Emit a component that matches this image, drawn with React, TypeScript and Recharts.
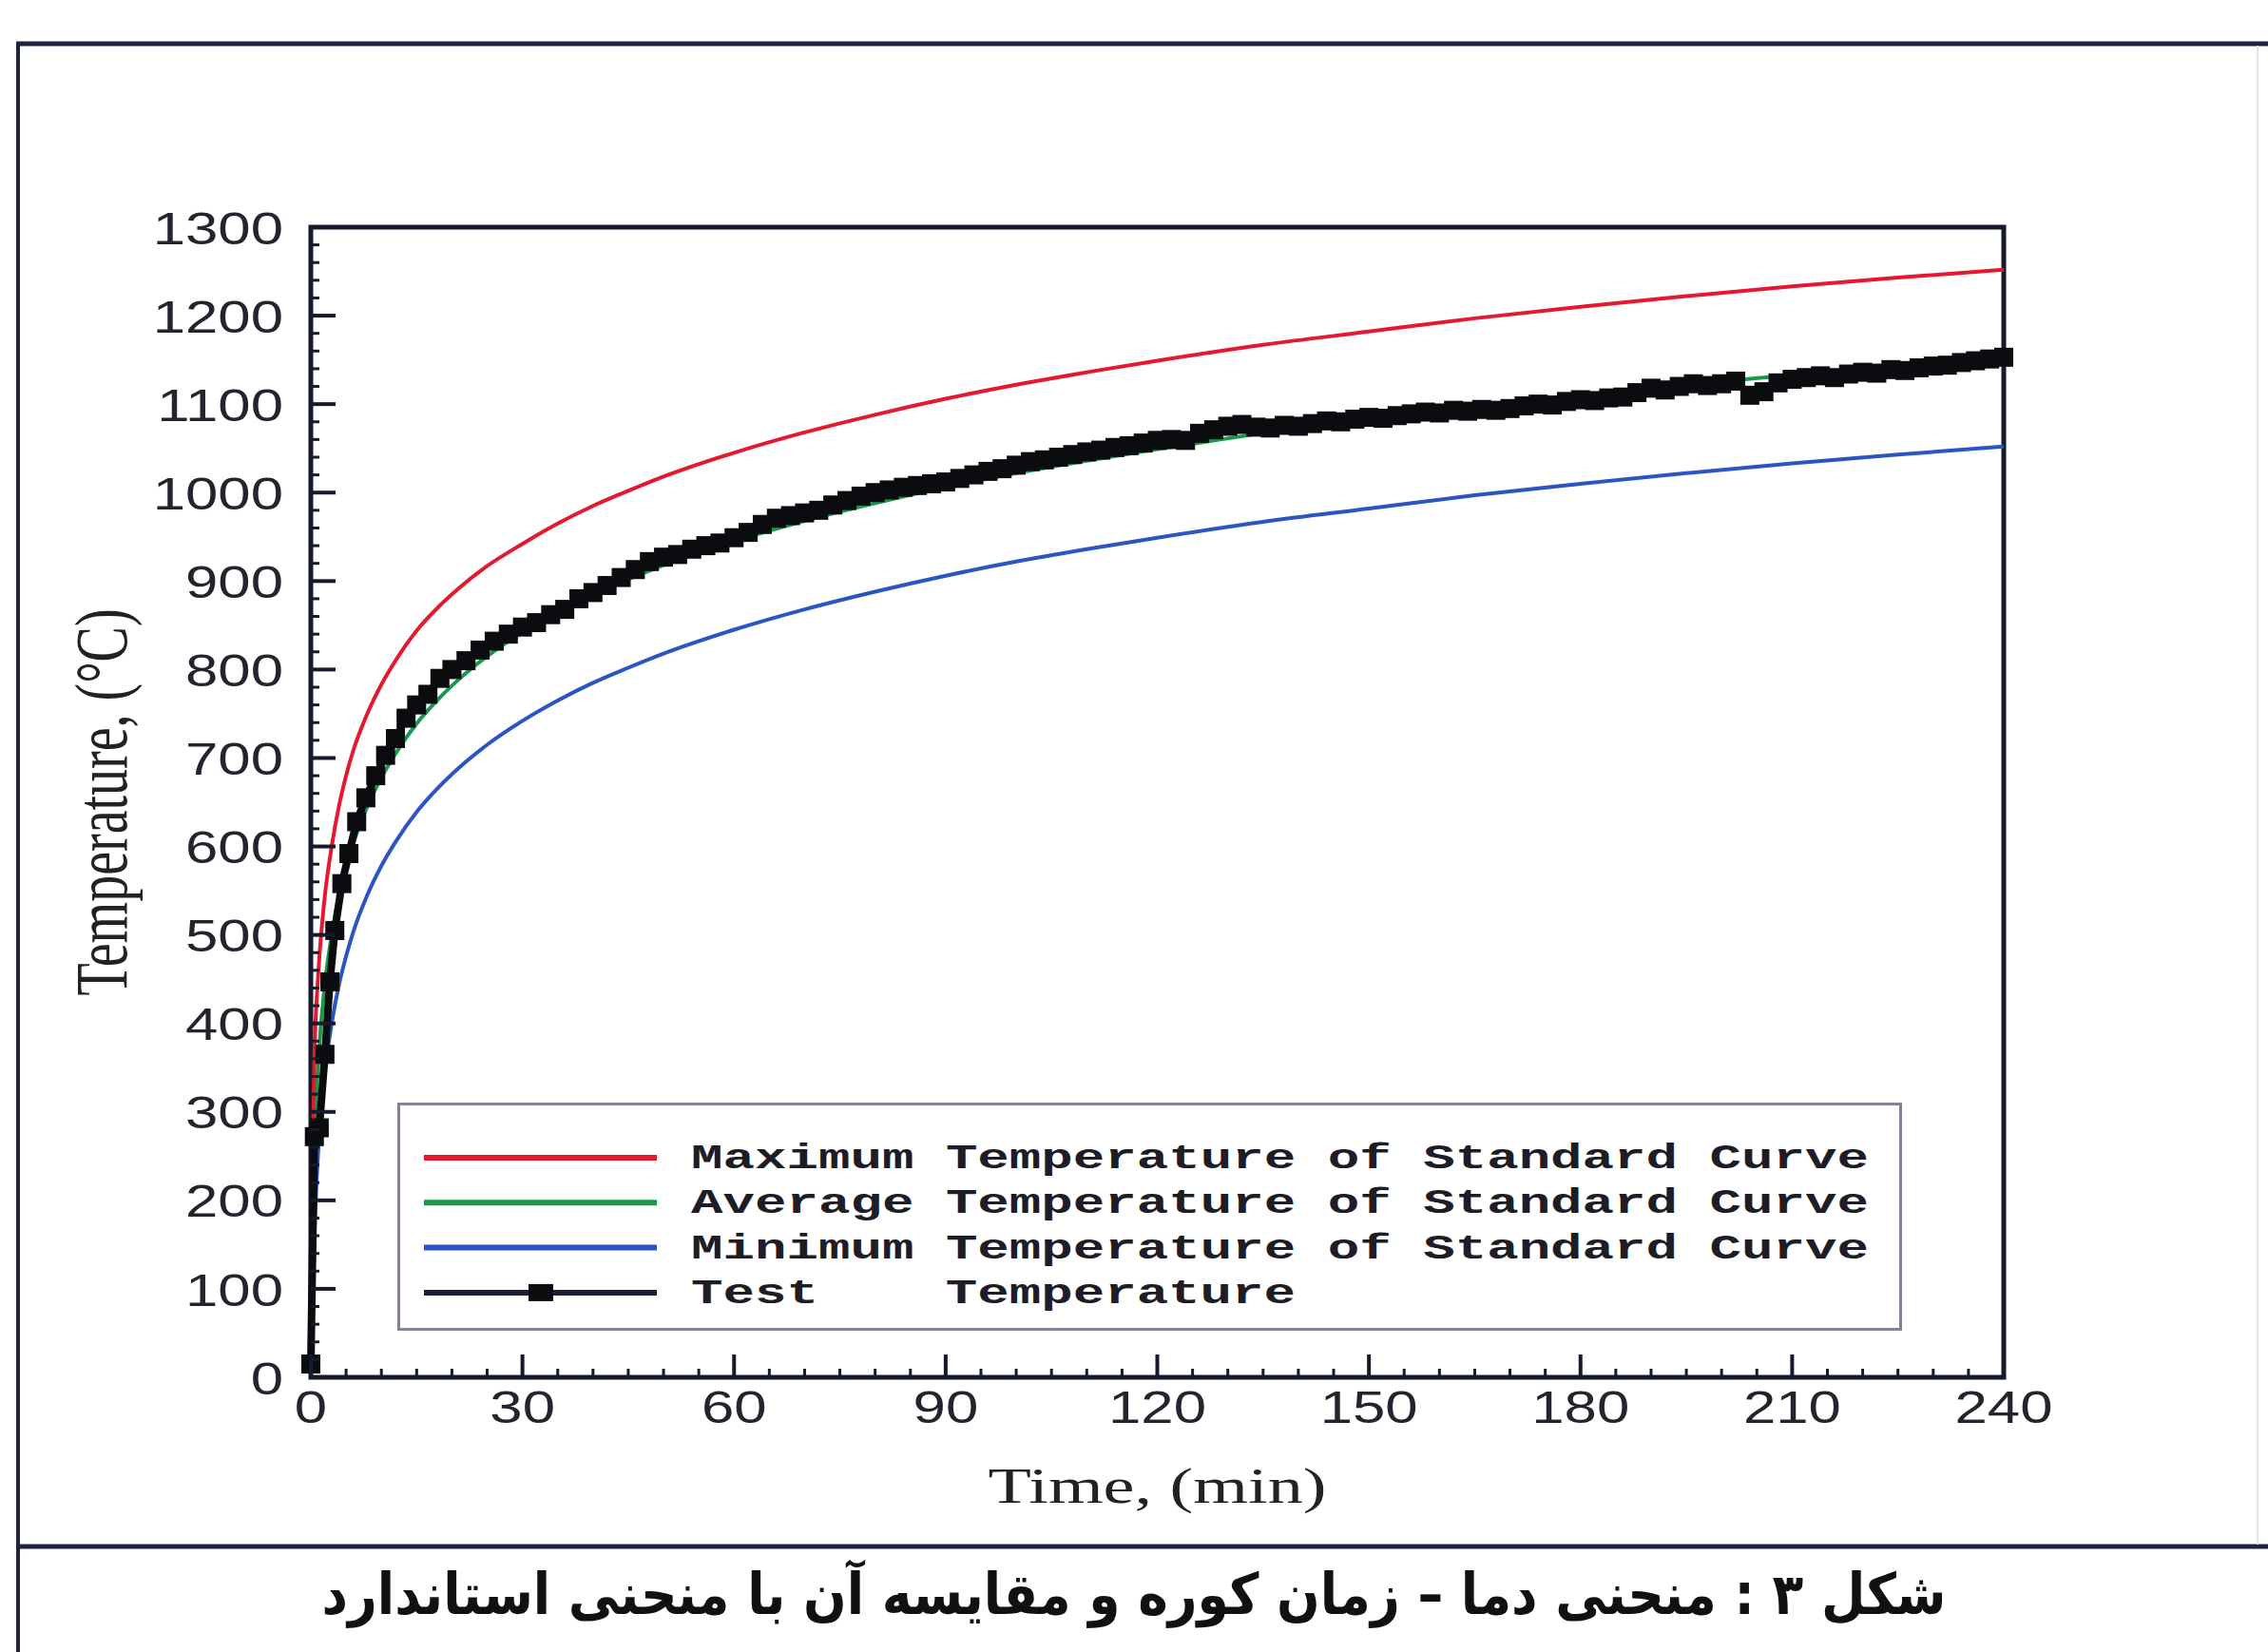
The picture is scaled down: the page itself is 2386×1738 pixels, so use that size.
import React from "react";
import { LineChart, Line, XAxis, YAxis, ReferenceArea, Legend } from "recharts";

// Standard curve sample times (min) and temperatures (°C)
const stdTime = [0, 0.5, 1, 1.5, 2, 3, 4, 5, 6, 8, 10, 12, 15, 18, 21, 25, 30, 35, 40, 45, 50, 60, 70, 80, 90, 100, 110, 120, 135, 150, 165, 180, 195, 210, 225, 240];
const maxTemp = [120, 361, 449, 504, 545, 602, 646, 680, 708, 750, 783, 810, 844, 870, 892, 917, 942, 965, 985, 1002, 1018, 1045, 1068, 1088, 1106, 1122, 1136, 1149, 1167, 1182, 1197, 1210, 1222, 1233, 1243, 1252];
const avgTemp = [20, 261, 349, 404, 445, 502, 544, 576, 603, 645, 678, 705, 739, 766, 789, 815, 842, 865, 885, 902, 918, 945, 968, 988, 1006, 1022, 1036, 1049, 1067, 1082, 1097, 1110, 1122, 1133, 1143, 1153];
const minTemp = [0, 161, 249, 304, 345, 402, 444, 476, 503, 545, 578, 605, 639, 666, 689, 715, 742, 765, 785, 802, 818, 845, 868, 888, 906, 922, 936, 949, 967, 982, 997, 1010, 1022, 1033, 1043, 1052];

// Furnace test measurements
const testTime = [
  0, 0.5, 1.2, 2, 2.7, 3.4, 4.4, 5.4, 6.5, 7.8, 9.2, 10.6, 12, 13.5, 15, 16.6, 18.3, 20,
  22, 24, 26, 28, 30, 32, 34, 36, 38, 40, 42, 44, 46, 48, 50, 52, 54, 56, 58, 60,
  62, 64, 66, 68, 70, 72, 74, 76, 78, 80, 82, 84, 86, 88, 90, 92, 94, 96, 98, 100,
  102, 104, 106, 108, 110, 112, 114, 116, 118, 120, 122, 124, 126, 128, 130, 132, 134, 136, 138, 140,
  142, 144, 146, 148, 150, 152, 154, 156, 158, 160, 162, 164, 166, 168, 170, 172, 174, 176, 178, 180,
  182, 184, 186, 188, 190, 192, 194, 196, 198, 200, 202, 204, 206, 208, 210, 212, 214, 216, 218, 220,
  222, 224, 226, 228, 230, 232, 234, 236, 238, 240,
];
const testTemp = [
  15, 272, 282, 365, 447, 505, 558, 592, 628, 655, 680, 703, 722, 745, 760, 772, 790, 800,
  810, 822, 832, 840, 848, 853, 862, 868, 880, 887, 895, 904, 913, 922, 927, 930, 936, 940, 943, 949,
  955, 964, 971, 974, 977, 980, 986, 991, 996, 1000, 1003, 1006, 1008, 1010, 1012, 1016, 1020, 1024, 1027, 1031,
  1035, 1037, 1040, 1043, 1046, 1048, 1051, 1053, 1056, 1059, 1060, 1059, 1067, 1071, 1075, 1077, 1074, 1073, 1076, 1075,
  1078, 1081, 1080, 1083, 1085, 1084, 1087, 1089, 1091, 1090, 1093, 1092, 1094, 1093, 1095, 1098, 1100, 1099, 1103, 1105,
  1104, 1107, 1108, 1113, 1118, 1116, 1120, 1123, 1121, 1123, 1126, 1110, 1114, 1124, 1128, 1130, 1132, 1130, 1134, 1136,
  1135, 1139, 1138, 1141, 1143, 1144, 1147, 1149, 1151, 1153,
];

const xMajorTicks = [0, 30, 60, 90, 120, 150, 180, 210, 240];
const yMajorTicks = [0, 100, 200, 300, 400, 500, 600, 700, 800, 900, 1000, 1100, 1200, 1300];
const xTicks = Array.from({ length: 49 }, (_, i) => i * 5);
const yTicks = Array.from({ length: 66 }, (_, i) => i * 20);

const legendLabels = [
  "Maximum Temperature of Standard Curve",
  "Average Temperature of Standard Curve",
  "Minimum Temperature of Standard Curve",
  "Test    Temperature",
];

const RED = "#e4192f";
const GREEN = "#179a4c";
const BLUE = "#2c55c4";
const TEST = "#0a0c10";
const AXIS = "#151a2c";
const TEXT = "#24242e";
const FRAME = "#1d2340";

const toPoints = (ts: number[], vs: number[]) => ts.map((t, i) => ({ t, v: vs[i] }));

const maxData = toPoints(stdTime, maxTemp);
const avgData = toPoints(stdTime, avgTemp);
const minData = toPoints(stdTime, minTemp);
const testData = toPoints(testTime, testTemp);

// eslint-disable-next-line @typescript-eslint/no-explicit-any
function YTick({ x, y, payload }: any) {
  const major = yMajorTicks.includes(payload.value);
  return (
    <g>
      <line x1={x} x2={x + (major ? 26 : 9)} y1={y} y2={y} stroke={AXIS} strokeWidth={major ? 4 : 3} />
      {major && (
        <text
          transform={`translate(${x - 29},${y}) scale(1.26,1)`}
          textAnchor="end"
          dy="0.36em"
          fontFamily="Liberation Sans"
          fontSize={49}
          fill={TEXT}
        >
          {payload.value}
        </text>
      )}
    </g>
  );
}

// eslint-disable-next-line @typescript-eslint/no-explicit-any
function XTick({ x, y, payload }: any) {
  const major = xMajorTicks.includes(payload.value);
  return (
    <g>
      <line x1={x} x2={x} y1={y} y2={y - (major ? 24 : 9)} stroke={AXIS} strokeWidth={major ? 4 : 3} />
      {major && (
        <text
          transform={`translate(${x},${y + 48}) scale(1.26,1)`}
          textAnchor="middle"
          fontFamily="Liberation Sans"
          fontSize={49}
          fill={TEXT}
        >
          {payload.value}
        </text>
      )}
    </g>
  );
}

// eslint-disable-next-line @typescript-eslint/no-explicit-any
function TestDot({ cx, cy, index }: any) {
  if (cx == null || cy == null) return <g key={`td-${index}`} />;
  return <rect key={`td-${index}`} x={cx - 10} y={cy - 10} width={20} height={20} fill={TEST} />;
}

function LegendBox() {
  const rows = [
    { label: legendLabels[0], color: RED, len: 1239, marker: false },
    { label: legendLabels[1], color: GREEN, len: 1239, marker: false },
    { label: legendLabels[2], color: BLUE, len: 1239, marker: false },
    { label: legendLabels[3], color: "#1a1f3a", len: 636, marker: true },
  ];
  return (
    <svg width={1583} height={240} style={{ display: "block" }}>
      <rect x={1.5} y={1.5} width={1580} height={237} fill="#fff" stroke="#8a7f9c" strokeWidth={3} />
      {rows.map((r, i) => {
        const cy = 58 + i * 47.3;
        return (
          <g key={r.label}>
            <line x1={28} x2={273} y1={cy} y2={cy} stroke={r.color} strokeWidth={6} />
            {r.marker && <rect x={138} y={cy - 9} width={26} height={18} fill={TEST} />}
            <text
              x={309}
              y={cy + 11}
              fontFamily="Liberation Mono"
              fontWeight="bold"
              fontSize={36}
              fill="#1e1c26"
              textLength={r.len}
              lengthAdjust="spacingAndGlyphs"
              xmlSpace="preserve"
              style={{ whiteSpace: "pre" }}
            >
              {r.label}
            </text>
          </g>
        );
      })}
    </svg>
  );
}

export default function App() {
  return (
    <div style={{ position: "absolute", left: 0, top: 0, width: 2386, height: 1738, background: "#fff" }}>
      <svg width={2386} height={1738} style={{ position: "absolute", left: 0, top: 0 }}>
        <line x1={17} x2={2386} y1={46} y2={46} stroke={FRAME} strokeWidth={5} />
        <line x1={19} x2={19} y1={44} y2={1738} stroke={FRAME} strokeWidth={4} />
        <line x1={17} x2={2386} y1={1627} y2={1627} stroke={FRAME} strokeWidth={5} />
        <line x1={2375} x2={2375} y1={48} y2={1625} stroke="#e2e2e6" strokeWidth={2} />
        <text
          x={1193}
          y={1698}
          textAnchor="middle"
          direction="rtl"
          fontFamily="DejaVu Sans"
          fontWeight="bold"
          fontSize={60}
          fill="#111"
          textLength={1709}
          lengthAdjust="spacingAndGlyphs"
        >
          شکل ۳ : منحنی دما – زمان کوره و مقایسه آن با منحنی استاندارد
        </text>
      </svg>
      <div style={{ position: "absolute", left: 0, top: 0 }}>
        <LineChart width={2386} height={1738} margin={{ top: 239, right: 278, bottom: 229, left: 227 }}>
          <XAxis
            dataKey="t"
            type="number"
            domain={[0, 240]}
            ticks={xTicks}
            interval={0}
            height={60}
            axisLine={false}
            tickLine={false}
            tickSize={0}
            tickMargin={0}
            tick={<XTick />}
            allowDuplicatedCategory={false}
            label={{
              value: "Time, (min)",
              content: ({ viewBox }: any) => (
                <text
                  transform={`translate(${viewBox.x + viewBox.width / 2},1581) scale(1.4,1)`}
                  textAnchor="middle"
                  fontFamily="Liberation Serif"
                  fontSize={53}
                  fill="#222"
                >
                  Time, (min)
                </text>
              ),
            }}
          />
          <YAxis
            dataKey="v"
            type="number"
            domain={[0, 1300]}
            ticks={yTicks}
            interval={0}
            width={100}
            axisLine={false}
            tickLine={false}
            tickSize={0}
            tickMargin={0}
            tick={<YTick />}
            label={{
              value: "Temperature, (°C)",
              content: ({ viewBox }: any) => (
                <text
                  transform={`translate(133,${viewBox.y + viewBox.height / 2}) scale(1.4,1) rotate(-90)`}
                  textAnchor="middle"
                  fontFamily="Liberation Serif"
                  fontSize={56}
                  fill="#222"
                >
                  Temperature, (°C)
                </text>
              ),
            }}
          />
          <ReferenceArea x1={0} x2={240} y1={0} y2={1300} fill="none" fillOpacity={0} stroke={AXIS} strokeWidth={5} ifOverflow="visible" />
          <Legend
            layout="vertical"
            align="center"
            verticalAlign="middle"
            width={1583}
            height={240}
            wrapperStyle={{ left: 418, top: 1160, width: 1583, height: 240 }}
            content={() => <LegendBox />}
          />
          <Line data={avgData} dataKey="v" type="monotone" stroke={GREEN} strokeWidth={4} dot={false} activeDot={false} isAnimationActive={false} name="Average" />
          <Line data={maxData} dataKey="v" type="monotone" stroke={RED} strokeWidth={4} dot={false} activeDot={false} isAnimationActive={false} name="Maximum" />
          <Line data={minData} dataKey="v" type="monotone" stroke={BLUE} strokeWidth={4} dot={false} activeDot={false} isAnimationActive={false} name="Minimum" />
          <Line data={testData} dataKey="v" type="linear" stroke={TEST} strokeWidth={8} dot={<TestDot />} activeDot={false} isAnimationActive={false} name="Test" />
        </LineChart>
      </div>
    </div>
  );
}
